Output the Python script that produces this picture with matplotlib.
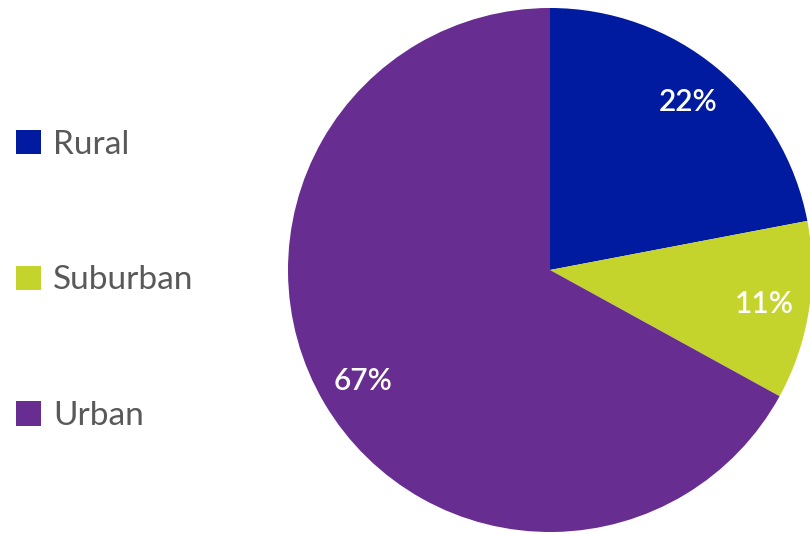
import matplotlib
matplotlib.use("Agg")
import matplotlib.pyplot as plt

# Share of respondents by area type
categories = ["Rural", "Suburban", "Urban"]
shares     = [22, 11, 67]
colors     = ["#001AA0", "#C4D42C", "#682D91"]

plt.rcParams["font.family"] = ["Lato", "DejaVu Sans"]

fig = plt.figure(figsize=(8.10, 5.34), dpi=100)
ax = fig.add_axes([0, 0, 1, 1])
ax.set_xlim(0, 810)
ax.set_ylim(0, 534)
ax.set_aspect("equal")
ax.axis("off")

wedges, _, autotexts = ax.pie(
    shares, colors=colors, startangle=90, counterclock=False,
    center=(550, 264), radius=262, pctdistance=0.83,
    autopct=lambda p: f"{p:.0f}%",
    wedgeprops=dict(linewidth=0),
    textprops=dict(color="white", fontsize=21.5, fontweight="semibold"),
)
ax.set_xlim(0, 810)
ax.set_ylim(0, 534)

leg = fig.legend(
    wedges, categories, loc="center left",
    bbox_to_anchor=(16 / 810, 0.475), frameon=False,
    fontsize=24, labelcolor="#595959",
    handlelength=0.75, handleheight=0.75, handletextpad=0.36,
    labelspacing=3.17, borderpad=0, borderaxespad=0,
)

fig.savefig("out.png", dpi=100)
